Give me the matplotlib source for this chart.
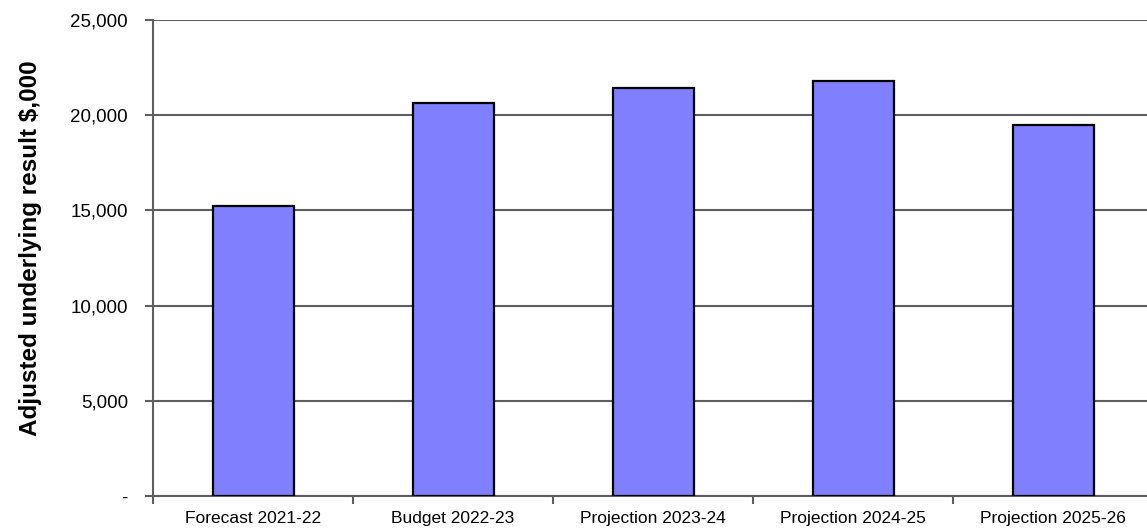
import matplotlib.pyplot as plt
import numpy as np

plt.rcParams['font.family'] = ['Liberation Sans', 'DejaVu Sans']

# 예산/전망 연도별 조정 기초 결과 ($,000)
periods = ['Forecast 2021-22', 'Budget 2022-23', 'Projection 2023-24',
           'Projection 2024-25', 'Projection 2025-26']
results = [15250, 20650, 21450, 21800, 19500]
yticks = [0, 5000, 10000, 15000, 20000, 25000]
ytick_labels = ['-', '5,000', '10,000', '15,000', '20,000', '25,000']

GRID = '#5f5f5f'

fig = plt.figure(figsize=(11.47, 5.32), dpi=100)
# 오른쪽 끝은 그림 밖으로 살짝 잘림
ax = fig.add_axes([153 / 1147, 36 / 532, 1000 / 1147, 476 / 532])

x = np.arange(len(periods))
ax.bar(x, results, width=0.405, color='#8080ff', edgecolor='black',
       linewidth=1.6, zorder=3)

ax.set_xlim(-0.5, len(periods) - 0.5)
ax.set_ylim(0, 25000)

ax.set_yticks(yticks)
ax.set_yticklabels(ytick_labels, fontsize=13.5, color='black')
ax.set_xticks(x)
ax.set_xticklabels(periods, fontsize=12.5, color='black')
# x축 눈금선은 항목 경계에
ax.set_xticks(np.arange(len(periods) + 1) - 0.5, minor=True)
ax.tick_params(axis='x', which='major', length=0, pad=11)
ax.tick_params(axis='x', which='minor', length=6, width=1.5, color=GRID)
ax.tick_params(axis='y', length=6, width=1.5, color=GRID, pad=12)

ax.yaxis.grid(True, color=GRID, linewidth=1.5, zorder=0)
ax.set_axisbelow(True)

for side in ['top', 'right']:
    ax.spines[side].set_visible(False)
for side in ['left', 'bottom']:
    ax.spines[side].set_color(GRID)
    ax.spines[side].set_linewidth(1.5)

ax.set_ylabel('Adjusted underlying result $,000', fontsize=17.5,
              fontweight='bold')
ax.yaxis.set_label_coords(-0.111, 0.521)

fig.savefig('out.png', dpi=100)
